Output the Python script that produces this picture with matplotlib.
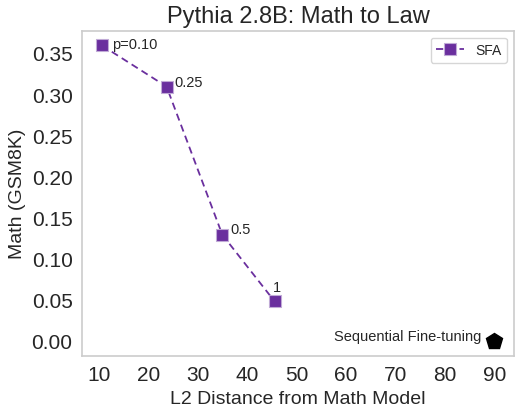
import matplotlib.pyplot as plt
import seaborn as sns

sns.set_style("white")
plt.rcParams['font.family'] = ['Liberation Sans', 'DejaVu Sans']

l2_dist = [10.5, 23.6, 34.9, 45.5]
gsm8k = [0.359, 0.309, 0.129, 0.048]
p_labels = ['p=0.10', '0.25', '0.5', '1']
label_offsets = [(7, 1), (5.5, 3.5), (6, 4), (-1.5, 5)]

seq_dist = [90.0]
seq_gsm8k = [0.0]

purple = '#6a2f9e'

fig = plt.figure(figsize=(5.19, 4.10), dpi=100)
ax = fig.add_axes([0.1586, 0.130, 0.8314, 0.7927])

ax.plot(l2_dist, gsm8k, linestyle='--', marker='s', color=purple,
        markersize=9, markeredgecolor='#c0aad6', markeredgewidth=0.8,
        linewidth=1.3, dashes=(4, 2.5), label='SFA')
for x, y, lab, off in zip(l2_dist, gsm8k, p_labels, label_offsets):
    ax.annotate(lab, (x, y), xytext=off, textcoords='offset points',
                fontsize=10.5, ha='left',
                va='bottom' if lab == '1' else 'center')

ax.plot(seq_dist, seq_gsm8k, linestyle='none', marker='p', color='black',
        markersize=12)
ax.annotate('Sequential Fine-tuning', (seq_dist[0], seq_gsm8k[0]),
            xytext=(-9, 3.5), textcoords='offset points', fontsize=10.5,
            ha='right', va='center')

for sp in ax.spines.values():
    sp.set_color('#cccccc')
    sp.set_linewidth(1.2)

ax.set_title('Pythia 2.8B: Math to Law', fontsize=17)
ax.set_xlabel('L2 Distance from Math Model', fontsize=14)
ax.set_ylabel('Math (GSM8K)', fontsize=14)
ax.set_xticks(range(10, 100, 10))
ax.set_yticks([0.0, 0.05, 0.10, 0.15, 0.20, 0.25, 0.30, 0.35])
ax.tick_params(labelsize=15)
ax.yaxis.set_major_formatter(plt.FormatStrFormatter('%.2f'))
ax.legend(loc='upper right', fontsize=10)

fig.savefig('out.png', dpi=100)
